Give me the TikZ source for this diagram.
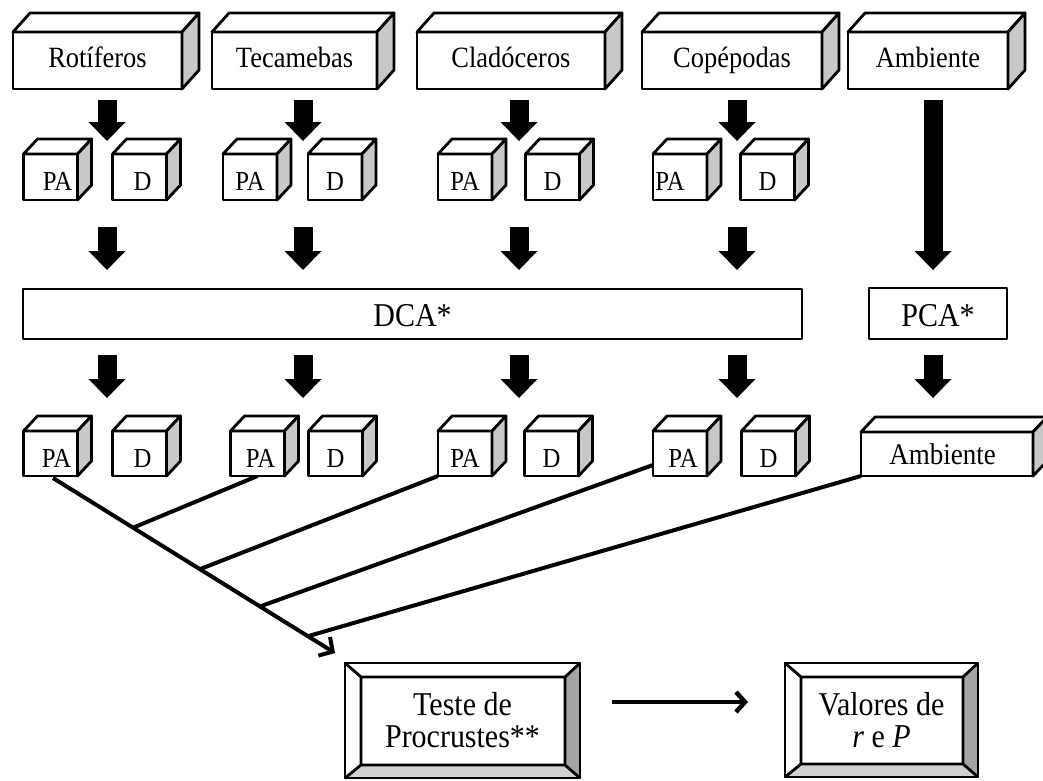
\documentclass[tikz,border=0pt]{standalone}
\usepackage{fontspec}
\setmainfont{Liberation Serif}[FakeStretch=0.9]
\usetikzlibrary{arrows.meta,calc}
\pgfdeclarelayer{bg}
\pgfsetlayers{bg,main}

\definecolor{sidegray}{HTML}{C8C8C8}
\definecolor{bevdark}{HTML}{A4A4A4}
\definecolor{bevlight}{HTML}{D0D0D0}

% top and right faces of a solid whose front face is the node #1
\newcommand\extrudebox[3]{%
  \filldraw[face, fill=white] (#1.north west) -- ++(#2,-#3) -- ($(#1.north east)+(#2,-#3)$) -- (#1.north east) -- cycle;
  \filldraw[face, fill=sidegray] (#1.north east) -- ++(#2,-#3) -- ($(#1.south east)+(#2,-#3)$) -- (#1.south east) -- cycle;
}
% raised bevel frame around the node #1
\newcommand\bevelframe[1]{%
  \coordinate (#1-a) at ($(#1.north west)+(16,14)$);
  \coordinate (#1-b) at ($(#1.north east)+(-15,14)$);
  \coordinate (#1-c) at ($(#1.south east)+(-15,-13)$);
  \coordinate (#1-d) at ($(#1.south west)+(16,-13)$);
  \fill[bevdark] (#1.north east) -- (#1.south east) -- (#1-c) -- (#1-b) -- cycle;
  \fill[bevlight] (#1.south west) -- (#1.south east) -- (#1-c) -- (#1-d) -- cycle;
  \draw[face] (#1-a) rectangle (#1-c)
    (#1.north west) -- (#1-a) (#1.north east) -- (#1-b)
    (#1.south east) -- (#1-c) (#1.south west) -- (#1-d);
  \draw[face] (#1.north west) rectangle (#1.south east);
}

\begin{document}
\begin{tikzpicture}[x=1pt,y=-1pt,
  face/.style={line width=2.8pt, line join=round},
  box/.style={draw, fill=white, face, rectangle, inner sep=0pt, outer sep=0pt, text depth=0pt},
  topbox/.style={box, minimum height=57pt, text height=13pt, font=\fontsize{29.4}{32}\selectfont},
  cube/.style={box, minimum width=54pt, minimum height=45pt, text height=27.5pt, font=\fontsize{27.5}{30}\selectfont},
  flatbox/.style={box, font=\fontsize{33.3}{36}\selectfont},
  bevelbox/.style={box, align=center, text depth=, font=\fontsize{33.3}{32}\selectfont},
  blockarrow/.style={line width=19pt, -{Triangle[length=19pt,width=37pt,line width=0pt]}},
  link/.style={line width=4pt},
  barb/.style={-{Straight Barb[length=10pt,width=22pt]}}
]
\useasboundingbox (0,0) rectangle (1043,780);

% column positions of the block arrows
\coordinate (k1) at (107,0);
\coordinate (k2) at (303,0);
\coordinate (k3) at (519,0);
\coordinate (k4) at (737,0);
\coordinate (k5) at (933,0);

% groups
\node[topbox, minimum width=169pt] (rot) at (97.5,60.5) {Rotíferos};
\node[topbox, minimum width=165pt] (tec) at (294.5,60.5) {Tecamebas};
\node[topbox, minimum width=188pt] (cla) at (511,60.5) {Cladóceros};
\node[topbox, minimum width=180pt] (cop) at (732,60.5) {Copépodas};
\node[topbox, minimum width=160pt] (amb) at (928,60.5) {Ambiente};
\foreach \n in {rot,tec,cla,cop,amb} {\extrudebox{\n}{17}{19}}

% presence/absence and density matrices
\node[cube, minimum height=46pt] (pa1) at (50.5,177) {\kern14pt PA};
\node[cube, minimum height=46pt] (d1) at (139.5,177) {\kern6pt D};
\node[cube, minimum height=46pt] (pa2) at (250,177) {PA};
\node[cube, minimum height=46pt] (d2) at (335,177) {D};
\node[cube, minimum height=46pt] (pa3) at (465,177) {PA};
\node[cube, minimum height=46pt] (d3) at (552.5,177) {D};
\node[cube, minimum height=46pt] (pa4) at (680,177) {PA\kern20pt};
\node[cube, minimum height=46pt] (d4) at (767.5,177) {D};
\foreach \n in {pa1,d1,pa2,d2,pa3,d3,pa4,d4} {\extrudebox{\n}{14}{15}}

% ordinations
\node[flatbox, minimum width=779pt, minimum height=50pt, text height=24pt] (dca) at (412.5,314) {DCA*};
\node[flatbox, minimum width=138pt, minimum height=51pt, text height=25pt] (pca) at (938,313.5) {PCA*};

% ordination scores
\node[cube] (pb1) at (50.5,453.5) {\kern12pt PA};
\node[cube] (db1) at (139.5,453.5) {\kern6pt D};
\node[cube] (pb2) at (257.5,453.5) {\kern6pt PA};
\node[cube] (db2) at (335.5,453.5) {D};
\node[cube] (pb3) at (465,453.5) {PA};
\node[cube] (db3) at (551.5,453.5) {D};
\node[cube] (pb4) at (680,453.5) {\kern6pt PA};
\node[cube] (db4) at (768.5,453.5) {D};
\node[box, minimum width=172pt, minimum height=44pt, text height=20pt, font=\fontsize{30}{32}\selectfont] (amb2) at (947,454) {Ambiente\kern9pt};
\foreach \n in {pb1,db1,pb2,db2,pb3,db3,pb4,db4,amb2} {\extrudebox{\n}{14}{15}}

% Procrustes test and its results
\node[bevelbox, minimum width=235pt, minimum height=115pt] (te) at (462.5,720.5) {Teste de\\Procrustes**};
\node[bevelbox, minimum width=193pt, minimum height=114pt] (val) at (881.5,720) {Valores de\\\textit{r} e \textit{P}};
\bevelframe{te}
\bevelframe{val}

% block arrows
\draw[blockarrow, shorten <=11pt, shorten >=13pt] (k1 |- rot.south) -- (k1 |- pa1.north);
\draw[blockarrow, shorten <=11pt, shorten >=13pt] (k2 |- tec.south) -- (k2 |- pa2.north);
\draw[blockarrow, shorten <=11pt, shorten >=13pt] (k3 |- cla.south) -- (k3 |- pa3.north);
\draw[blockarrow, shorten <=11pt, shorten >=13pt] (k4 |- cop.south) -- (k4 |- pa4.north);
\draw[blockarrow, shorten <=11pt, shorten >=18pt] (k5 |- amb.south) -- (k5 |- pca.north);
\foreach \i/\n in {1/pa1,2/pa2,3/pa3,4/pa4}
  \draw[blockarrow, shorten <=27pt, shorten >=19pt] (k\i |- \n.south) -- (k\i |- dca.north);
\foreach \i/\n in {1/pb1,2/pb2,3/pb3,4/pb4}
  \draw[blockarrow, shorten <=16pt, shorten >=33pt] (k\i |- dca.south) -- (k\i |- \n.north);
\draw[blockarrow, shorten <=16pt, shorten >=34pt] (k5 |- pca.south) -- (k5 |- amb2.north);

% links into the Procrustes test
\begin{pgfonlayer}{bg}
  \coordinate (s0) at ($(pb1.south)+(2.5,2)$);
  \coordinate (s1) at ($(te.north west)+(-10,-10)$);
  \coordinate (j1) at ($(s0)!0.284!(s1)$);
  \coordinate (j2) at ($(s0)!0.521!(s1)$);
  \coordinate (j3) at ($(s0)!0.734!(s1)$);
  \coordinate (j4) at ($(s0)!0.904!(s1)$);
  \draw[link, barb] (s0) -- (s1);
  \draw[link] (j1) -- (pb2.south);
  \draw[link] (j2) -- (pb3.south west);
  \draw[link] (j3) -- ($(pb4.south west)+(0,-11)$);
  \draw[link] (j4) -- (amb2.south west);
\end{pgfonlayer}

\draw[link, line width=4.5pt, -{Straight Barb[length=9pt,width=20pt]}]
  ($(te.east)+(32,-18.5)$) -- ($(val.west)+(-37,-18)$);
\end{tikzpicture}
\end{document}
